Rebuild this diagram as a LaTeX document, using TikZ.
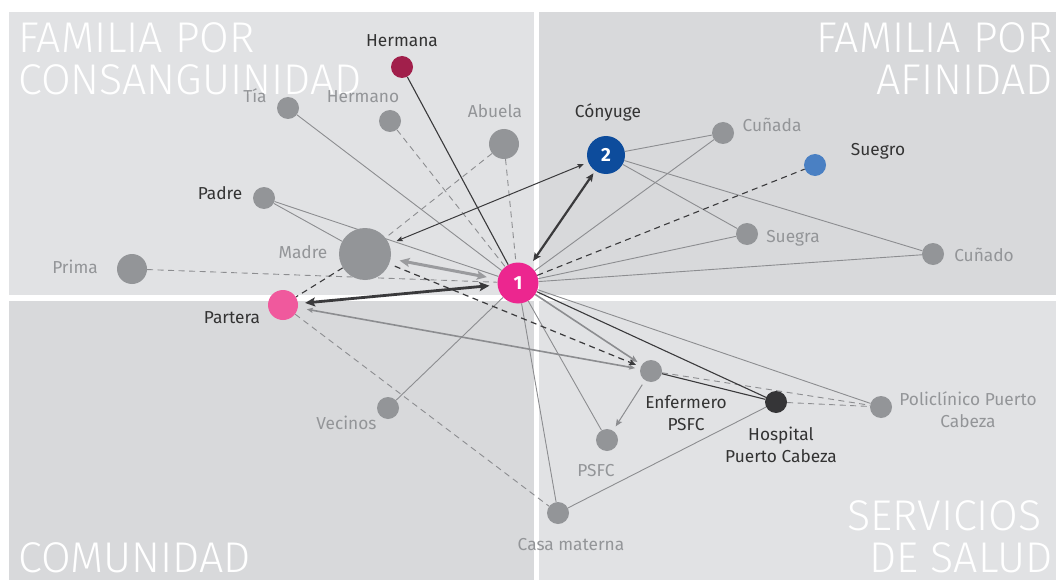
\documentclass[tikz,border=0pt]{standalone}
\usepackage{fontspec}
\setmainfont{Fira Sans}
\IfFontExistsTF{Fira Sans Light}{\newfontfamily\titlefont{Fira Sans Light}}{\newfontfamily\titlefont{Fira Sans}}
\usetikzlibrary{arrows.meta}
\definecolor{panelA}{HTML}{E1E2E4}
\definecolor{panelB}{HTML}{D8D9DB}
\definecolor{ndgray}{HTML}{939598}
\definecolor{lngray}{HTML}{8C8D90}
\definecolor{lnthick}{HTML}{9A9B9E}
\definecolor{lndark}{HTML}{3A3A3C}
\definecolor{pinkA}{HTML}{EC268F}
\definecolor{pinkB}{HTML}{F0599D}
\definecolor{blueA}{HTML}{0D4C9C}
\definecolor{blueB}{HTML}{4A80C3}
\definecolor{crimson}{HTML}{A11F4B}
\definecolor{hospc}{HTML}{353537}
\definecolor{txdark}{HTML}{333333}
\pgfdeclarelayer{bg}
\pgfdeclarelayer{edges}
\pgfsetlayers{bg,edges,main}
\begin{document}
\begin{tikzpicture}[x=1pt,y=-1pt,
  dot/.style={circle,fill=ndgray,draw=none,inner sep=0pt,minimum size=#1},
  dot/.default=22pt,
  lbl/.style={inner sep=0pt,anchor=base,font=\fontsize{17.3}{20}\selectfont},
  lg/.style={lbl,text=ndgray},
  ld/.style={lbl,text=txdark},
  ttl/.style={inner sep=0pt,text=white,font=\titlefont\fontsize{43}{46}\selectfont},
  num/.style={text=white,font=\bfseries\fontsize{19}{20}\selectfont},
  gl/.style={draw=lngray,line width=0.9pt},
  gd/.style={draw=lngray,line width=0.9pt,dash pattern=on 6pt off 4.5pt},
  dl/.style={draw=lndark,line width=1.1pt},
  dd/.style={draw=lndark,line width=1.1pt,dash pattern=on 6pt off 4.5pt},
  bigtip/.style={arrows={Stealth[length=10pt,width=9pt,inset=2pt]-Stealth[length=10pt,width=9pt,inset=2pt]}},
  midtip/.style={arrows={Stealth[length=8pt,width=7pt,inset=1.5pt]-Stealth[length=8pt,width=7pt,inset=1.5pt]}},
  thintip/.style={arrows={Stealth[length=6pt,width=5pt,inset=1pt]-Stealth[length=6pt,width=5pt,inset=1pt]}},
  endtip/.style={arrows={-Stealth[length=7pt,width=6pt,inset=1.2pt]}}
]
\begin{pgfonlayer}{bg}
\fill[white] (0,0) rectangle (1056,580);
\fill[panelA] (9,12) rectangle (534,295);
\fill[panelB] (539,12) rectangle (1056,295);
\fill[panelB] (9,301) rectangle (534,580);
\fill[panelA] (539,301) rectangle (1056,580);
\end{pgfonlayer}
\useasboundingbox (0,0) rectangle (1056,580);

% titles
\node[ttl,anchor=base west] (tt1) at (18,53) {FAMILIA POR};
\node[ttl,anchor=base west] (tt2) at (18,94.5) {CONSANGUINIDAD};
\node[ttl,anchor=base east] (tt3) at (1053,53) {FAMILIA POR};
\node[ttl,anchor=base east] (tt4) at (1053,94.5) {AFINIDAD};
\node[ttl,anchor=base west] (tt5) at (18,572) {COMUNIDAD};
\node[ttl,anchor=base east] (tt6) at (1042,530) {SERVICIOS};
\node[ttl,anchor=base east] (tt7) at (1053,572) {DE SALUD};

% nodes
\node[dot=41pt,fill=pinkA,num] (n1) at (518,283) {1};
\node[dot=38pt,fill=blueA,num] (n2) at (606,155) {2};
\node[dot,fill=crimson] (hermana) at (402,67) {};
\node[dot] (tia) at (288,108) {};
\node[dot] (hermano) at (390,121) {};
\node[dot=30pt] (abuela) at (504,144) {};
\node[dot] (padre) at (264,198) {};
\node[dot=52pt] (madre) at (365,254) {};
\node[dot=30pt] (prima) at (132,269) {};
\node[dot=30pt,fill=pinkB] (partera) at (283,305) {};
\node[dot] (vecinos) at (388,408) {};
\node[dot] (casa) at (558,513) {};
\node[dot] (psfc) at (607,440) {};
\node[dot] (enf) at (651,371) {};
\node[dot,fill=hospc] (hosp) at (776,402) {};
\node[dot] (poli) at (881,407) {};
\node[dot] (cunada) at (723,133) {};
\node[dot,fill=blueB] (suegro) at (815,165) {};
\node[dot] (suegra) at (747,234) {};
\node[dot] (cunado) at (933,254) {};

% labels
\node[ld] (tHermana) at (402,46.5) {Hermana};
\node[lg] (tTia) at (255,103) {Tía};
\node[lg] (tHermano) at (363,103) {Hermano};
\node[lg] (tAbuela) at (495,118) {Abuela};
\node[ld] (tPadre) at (220,199) {Padre};
\node[lg] (tMadre) at (303,258) {Madre};
\node[lg] (tPrima) at (75,273) {Prima};
\node[ld] (tConyuge) at (608,118) {Cónyuge};
\node[lg] (tCunada) at (772,131.5) {Cuñada};
\node[ld] (tSuegro) at (878,156) {Suegro};
\node[lg] (tSuegra) at (793,242.5) {Suegra};
\node[lg] (tCunado) at (984,261) {Cuñado};
\node[ld] (tPartera) at (232,323) {Partera};
\node[lg] (tVecinos) at (346.5,429) {Vecinos};
\node[lg] (tPSFC) at (596,476) {PSFC};
\node[lg] (tCasa) at (571,550) {Casa materna};
\node[ld] (tEnf1) at (686,408) {Enfermero};
\node[ld] (tEnf2) at (686,430) {PSFC};
\node[ld] (tHosp1) at (781,440.5) {Hospital};
\node[ld] (tHosp2) at (781,462.5) {Puerto Cabeza};
\node[lg] (tPoli1) at (968,405) {Policlínico Puerto};
\node[lg] (tPoli2) at (968,427.5) {Cabeza};

\begin{pgfonlayer}{edges}
% gray solid
\draw[gl] (tia) -- (n1);
\draw[gl] (padre) -- (n1);
\draw[gl] (padre) -- (madre);
\draw[gl] (vecinos) -- (n1);
\draw[gl] (n1) -- (cunada);
\draw[gl] (n2) -- (cunada);
\draw[gl] (n1) -- (suegra);
\draw[gl] (n2) -- (suegra);
\draw[gl] (n1) -- (cunado);
\draw[gl] (n2) -- (cunado);
\draw[gl] (n1) -- (poli);
\draw[gl] (n1) -- (psfc);
\draw[gl] (n1) -- (casa);
\draw[gl] (casa) -- (hosp);
% gray dashed
\draw[gd] (hermano) -- (n1);
\draw[gd] (abuela) -- (n1);
\draw[gd] (abuela) -- (madre);
\draw[gd] (prima) -- (n1);
\draw[gd] (partera) -- (casa);
\draw[gd] (enf) -- (poli);
\draw[gd] (hosp) -- (poli);
% dark solid
\draw[dl] (hermana) -- (n1);
\draw[dl] (n1) -- (hosp);
\draw[dl] (enf) -- (hosp);
% dark dashed
\draw[dd] (n1) -- (suegro);
\draw[dd] (madre) -- (partera);
% arrows
\draw[draw=lnthick,line width=3pt,bigtip,shorten <=9pt,shorten >=11pt] (madre) -- (n1);
\draw[draw=lndark,line width=2.8pt,bigtip,shorten <=7pt,shorten >=8pt] (partera) -- (n1);
\draw[draw=lndark,line width=2.2pt,midtip,shorten <=6pt,shorten >=3pt] (n1) -- (n2);
\draw[draw=lndark,line width=1pt,thintip,shorten <=8pt,shorten >=5pt] (madre) -- (n2);
\draw[draw=lngray,line width=1.6pt,thintip,shorten <=9pt,shorten >=5pt] (partera) -- (enf);
\draw[draw=lngray,line width=1.6pt,endtip,shorten >=5pt] (n1) -- (enf);
\draw[draw=lndark,line width=1.2pt,dash pattern=on 6pt off 4.5pt,endtip,shorten <=6pt,shorten >=5pt] (madre) -- (enf);
\draw[draw=lngray,line width=1pt,endtip,shorten <=5pt,shorten >=5pt] (enf) -- (psfc);
\end{pgfonlayer}
\end{tikzpicture}
\end{document}
